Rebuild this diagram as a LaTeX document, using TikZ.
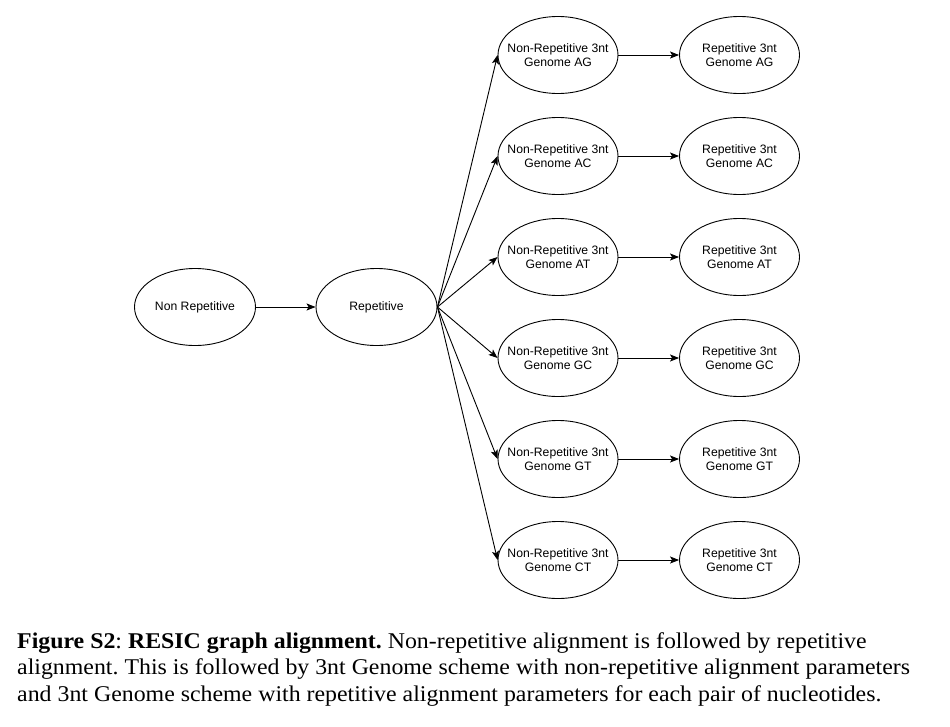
\documentclass[tikz,border=0pt]{standalone}
\usepackage{fontspec}
\setmainfont{Liberation Serif}
\newfontfamily\diagfont{Liberation Sans}
\usetikzlibrary{shapes.geometric,arrows.meta}
\frenchspacing
\tikzset{
  oval/.style={ellipse, draw, line width=0.9pt, minimum width=121pt, minimum height=77pt, inner sep=0pt},
  ovaltext/.style={align=center, inner sep=0pt, font=\diagfont\fontsize{12.2}{14}\selectfont},
  flow/.style={draw, line width=0.9pt, -{Stealth[length=9pt,width=7pt,inset=2pt]}},
  capline/.style={anchor=base west, inner sep=0pt, font=\fontsize{22.5}{26.5}\selectfont}
}
\newcommand{\capstretch}[1]{\scalebox{1.06}[1]{#1}}
\begin{document}
\begin{tikzpicture}[x=1pt,y=-1pt]
\useasboundingbox (0,0) rectangle (950,726);
\node[oval, label={[ovaltext]center:Non Repetitive}] (nr) at (195,307) {};
\node[oval, label={[ovaltext]center:Repetitive}] (rp) at (376.5,307) {};
\foreach \i/\p/\y in {1/AG/55,2/AC/156,3/AT/257,4/GC/358,5/GT/459,6/CT/560}{
  \node[oval, minimum width=120pt, label={[ovaltext]center:{Non-Repetitive 3nt\\Genome \p}}] (a\i) at (558,\y) {};
  \node[oval, minimum width=120pt, label={[ovaltext]center:{Repetitive 3nt\\Genome \p}}] (b\i) at (739.5,\y) {};
  \draw[flow] (rp.east) -- (a\i.west);
  \draw[flow] (a\i.east) -- (b\i.west);
}
\draw[flow] (nr.east) -- (rp.west);
\node[capline] (c1) at (17,648.3) {\capstretch{\textbf{Figure S2}: \textbf{RESIC graph alignment.} Non-repetitive alignment is followed by repetitive}};
\node[capline] (c2) at (17,674.8) {\capstretch{alignment. This is followed by 3nt Genome scheme with non-repetitive alignment parameters}};
\node[capline] (c3) at (17,701.3) {\capstretch{and 3nt Genome scheme with repetitive alignment parameters for each pair of nucleotides.}};
\end{tikzpicture}
\end{document}
